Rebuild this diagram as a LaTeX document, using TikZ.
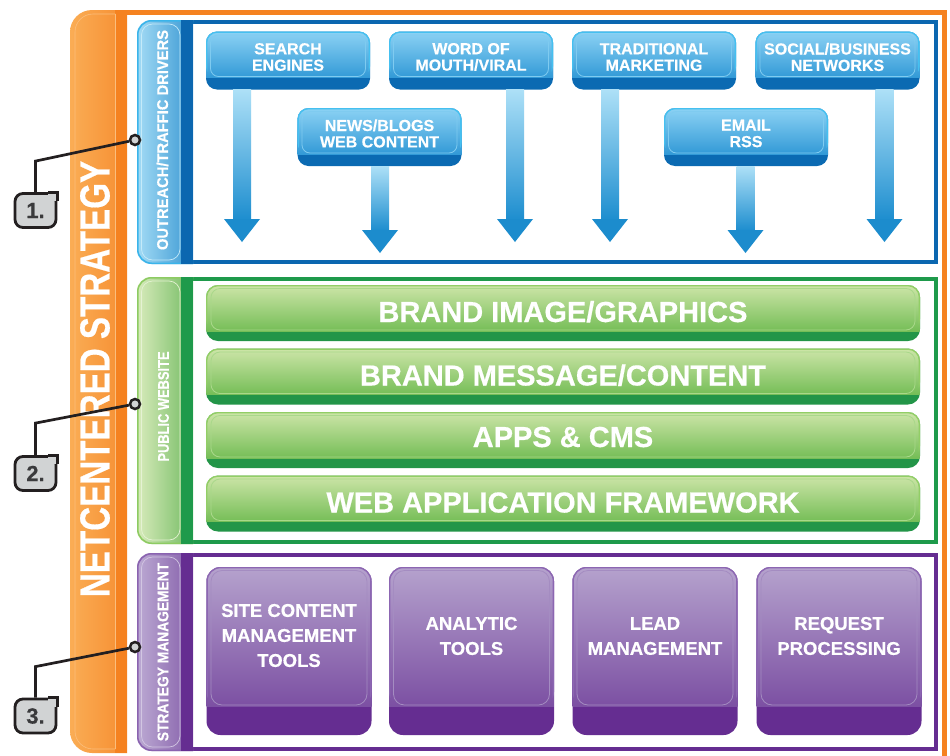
\documentclass[tikz,border=0pt]{standalone}
\usepackage{fontspec}
\setmainfont{Liberation Sans}[BoldFeatures={FakeBold=0.5}]
\usepackage{graphicx}
\usetikzlibrary{calc}
\definecolor{orL}{HTML}{FAAD55}
\definecolor{orR}{HTML}{F47B1B}
\definecolor{orStripe}{HTML}{F58220}
\definecolor{orHi}{HTML}{FBBE7C}
\definecolor{orLine}{HTML}{F58220}
\definecolor{bFrame}{HTML}{0B67B0}
\definecolor{bTabL}{HTML}{A3DBF5}
\definecolor{bTabR}{HTML}{0E7CC4}
\definecolor{bRim}{HTML}{3AB4EA}
\definecolor{bHi}{HTML}{C5EAF9}
\definecolor{bTop}{HTML}{8CD2F4}
\definecolor{bBot}{HTML}{1B8BCF}
\definecolor{bBand}{HTML}{0B6AB2}
\definecolor{bBoxHi}{HTML}{7FCBF0}
\definecolor{bBoxRim}{HTML}{45C0F0}
\definecolor{aTop}{HTML}{ADE0F7}
\definecolor{aBot}{HTML}{1E8ECF}
\definecolor{aHead}{HTML}{1C8CCD}
\definecolor{gFrame}{HTML}{1E9A4B}
\definecolor{gTabL}{HTML}{D8EBBB}
\definecolor{gTabR}{HTML}{4AA83F}
\definecolor{gRim}{HTML}{8DCB62}
\definecolor{gHi}{HTML}{E5F2D3}
\definecolor{gbTop}{HTML}{CDE5A8}
\definecolor{gbBot}{HTML}{62B545}
\definecolor{gbBand}{HTML}{239548}
\definecolor{gbHi}{HTML}{A9D88A}
\definecolor{gbRim}{HTML}{92CE66}
\definecolor{pFrame}{HTML}{652D91}
\definecolor{pTabL}{HTML}{BCAAD3}
\definecolor{pTabR}{HTML}{6E3F99}
\definecolor{pRim}{HTML}{8A63B0}
\definecolor{pHi}{HTML}{D2C6E2}
\definecolor{pbTop}{HTML}{B5A2CD}
\definecolor{pbBot}{HTML}{703F9A}
\definecolor{pbBand}{HTML}{652D91}
\definecolor{pbHi}{HTML}{A48CC1}
\definecolor{pbRim}{HTML}{8C66B2}
\definecolor{cFill}{HTML}{D1D3D4}
\definecolor{cBorder}{HTML}{231F20}
\definecolor{cText}{HTML}{3A3A3C}

\newcommand\mysection[8]{%
  \draw[#3, line width=4pt] (191,#1+2) rectangle (935.5,#2-2);
  \begin{scope}
    \clip (137,#1) rectangle (193,#2);
    \shade[left color=#4, right color=#5, rounded corners=14pt] (137,#1) rectangle (215,#2);
    \draw[#7, line width=1.5pt, rounded corners=14pt] (137.75,#1+0.75) rectangle (230,#2-0.75);
    \draw[#8, line width=0.7pt, rounded corners=11pt] (141.5,#1+4) rectangle (180,#2-4);
    \fill[#6] (181,#1) rectangle (193,#2);
  \end{scope}
}
\newcommand\myarrow[2]{%
  \shade[top color=aTop, bottom color=aBot] ($(#1.south -| #2)+(-9,0)$) rectangle ($(#2)+(9,-23)$);
  \fill[aHead] ($(#2)+(-18,-23)$) -- ($(#2)+(18,-23)$) -- (#2) -- cycle;
}
\newcommand\sharpcorner[1]{%
  \fill[cFill] ($(#1.north east)+(-9,1.4)$) rectangle ($(#1.north east)+(-1.4,9)$);
  \draw[cBorder, line width=2.8pt] ($(#1.north east)+(-9,0)$) -- (#1.north east) -- ($(#1.north east)+(0,9)$);
}
% #1 top colour, #2 bottom colour, #3 band height, #4 highlight colour, #5 corner radius, #6 rim colour, #7 inset
\newcommand\glosspic[7]{%
  \shade[sharp corners, top color=#1, bottom color=#2] (path picture bounding box.north west) rectangle ([yshift=#3]path picture bounding box.south east);
  \begin{scope}
    \clip (path picture bounding box.north west) rectangle ([yshift=#3]path picture bounding box.south east);
    \draw[#6, line width=2.6pt, rounded corners=#5] (path picture bounding box.north west) rectangle (path picture bounding box.south east);
  \end{scope}
  \draw[#4, line width=0.8pt, rounded corners=#5-3pt] ([shift={(#7,-3.5pt)}]path picture bounding box.north west) rectangle ([shift={(-#7,#3+1pt)}]path picture bounding box.south east);
}

\begin{document}
\begin{tikzpicture}[x=1pt,y=-1pt,
  wtxt/.style={text=white, inner sep=0pt},
  btxt/.style={wtxt, align=center, font=\fontsize{16}{16.4}\selectfont\bfseries},
  gtxt/.style={wtxt, font=\fontsize{29}{29}\selectfont\bfseries},
  ptxt/.style={wtxt, align=center, font=\fontsize{18.5}{25}\selectfont\bfseries},
  tabtxt/.style={wtxt, rotate=90, font=\fontsize{15.5}{15.5}\selectfont\bfseries},
  bbox/.style={rounded corners=11pt, minimum width=164pt, minimum height=58pt, inner sep=0pt, fill=bBand,
    path picture={\glosspic{bTop}{bBot}{12pt}{bBoxHi}{11pt}{bBoxRim}{4.5pt}}},
  gbar/.style={rounded corners=12pt, minimum width=714pt, minimum height=56pt, inner sep=0pt, fill=gbBand,
    path picture={\glosspic{gbTop}{gbBot}{10pt}{gbHi}{12pt}{gbRim}{5pt}}},
  pbox/.style={rounded corners=14pt, minimum width=165pt, minimum height=168pt, inner sep=0pt, fill=pbBand,
    path picture={\glosspic{pbTop}{pbBot}{29pt}{pbHi}{14pt}{pbRim}{4.5pt}}},
  numtag/.style={draw=cBorder, line width=2.8pt, fill=cFill, rounded corners=8pt, minimum width=41pt, minimum height=34pt, inner sep=0pt, text=cText, font=\fontsize{22}{22}\selectfont\bfseries},
  dotpin/.style={circle, draw=cBorder, line width=2.5pt, fill=cFill, minimum size=10pt, inner sep=0pt},
  leadline/.style={draw=cBorder, line width=2.7pt},
]
\useasboundingbox (0,0) rectangle (950,755);
\fill[white] (0,0) rectangle (950,755);

% orange frame
\begin{scope}
  \clip (70,10) rectangle (127,760);
  \shade[left color=orL, right color=orR, rounded corners=22pt] (70,10) rectangle (160,753);
\end{scope}
\fill[orStripe] (115,10) rectangle (127,753);
\begin{scope}
  \clip (70,10) rectangle (115.3,760);
  \draw[orHi, line width=0.6pt, rounded corners=18pt] (75,14) rectangle (140,749);
\end{scope}
\draw[orHi, line width=0.6pt] (115,14) -- (115,749);
\draw[orLine, line width=4.5pt] (120,12.25) -- (944.25,12.25) -- (944.25,760);
\node[wtxt, rotate=90, font=\fontsize{42}{42}\selectfont\bfseries] (title) at (95,379) {\scalebox{0.79}[1]{NETCENTERED STRATEGY}};

% sections
\mysection{20}{264}{bFrame}{bTabL}{bTabR}{bFrame}{bRim}{bHi}
\mysection{277}{544}{gFrame}{gTabL}{gTabR}{gFrame}{gRim}{gHi}
\mysection{553}{751}{pFrame}{pTabL}{pTabR}{pFrame}{pRim}{pHi}

\node[tabtxt] (tab1) at (162.5,140) {\scalebox{0.95}[1]{OUTREACH/TRAFFIC DRIVERS}};
\node[tabtxt] (tab2) at (163.5,406.5) {\scalebox{0.83}[1]{PUBLIC WEBSITE}};
\node[tabtxt] (tab3) at (163,652) {\scalebox{0.89}[1]{STRATEGY MANAGEMENT}};

% blue boxes
\node[bbox] (s1) at (288,60.5) {};
\node[bbox] (s2) at (471,60.5) {};
\node[bbox] (s3) at (654,60.5) {};
\node[bbox] (s4) at (837.5,60.5) {};
\node[bbox] (s5) at (379.5,137) {};
\node[bbox] (s6) at (746,137) {};
\node[btxt] (s1t) at ([yshift=3.5pt]s1.center) {SEARCH\\ENGINES};
\node[btxt] (s2t) at ([yshift=3.5pt]s2.center) {WORD OF\\MOUTH/VIRAL};
\node[btxt] (s3t) at ([yshift=3.5pt]s3.center) {TRADITIONAL\\MARKETING};
\node[btxt] (s4t) at ([yshift=3.5pt]s4.center) {SOCIAL/BUSINESS\\NETWORKS};
\node[btxt] (s5t) at ([yshift=3.5pt]s5.center) {NEWS/BLOGS\\WEB CONTENT};
\node[btxt] (s6t) at ([yshift=3.5pt]s6.center) {EMAIL\\RSS};

% arrows
\coordinate (t1) at (242,242);
\coordinate (t2) at (515,242);
\coordinate (t3) at (610,242);
\coordinate (t4) at (884.5,242);
\coordinate (t5) at (380,253);
\coordinate (t6) at (745.5,253);
\myarrow{s1}{t1}
\myarrow{s2}{t2}
\myarrow{s3}{t3}
\myarrow{s4}{t4}
\myarrow{s5}{t5}
\myarrow{s6}{t6}

% green bars
\node[gbar] (g1) at (563,313) {};
\node[gbar] (g2) at (563,376.5) {};
\node[gbar] (g3) at (563,440) {};
\node[gbar] (g4) at (563,503.5) {};
\node[gtxt, anchor=base] (g1t) at (563,322) {BRAND IMAGE/GRAPHICS};
\node[gtxt, anchor=base] (g2t) at (563,385.5) {BRAND MESSAGE/CONTENT};
\node[gtxt, anchor=base] (g3t) at (563,447) {APPS \& CMS};
\node[gtxt, anchor=base] (g4t) at (563,512.5) {WEB APPLICATION FRAMEWORK};

% purple boxes
\node[pbox] (m1) at (289,651) {};
\node[pbox] (m2) at (471.5,651) {};
\node[pbox] (m3) at (655,651) {};
\node[pbox] (m4) at (839,651) {};
\node[ptxt] (m1t) at ([yshift=15.5pt]m1.center) {SITE CONTENT\\MANAGEMENT\\TOOLS};
\node[ptxt] (m2t) at ([yshift=15pt]m2.center) {ANALYTIC\\TOOLS};
\node[ptxt] (m3t) at ([yshift=15pt]m3.center) {LEAD\\MANAGEMENT};
\node[ptxt] (m4t) at ([yshift=15pt]m4.center) {REQUEST\\PROCESSING};

% callouts
\node[numtag] (c1) at (35.5,210.5) {1.};
\node[numtag] (c2) at (35.5,473.5) {2.};
\node[numtag] (c3) at (35.5,716) {3.};
\sharpcorner{c1}
\sharpcorner{c2}
\sharpcorner{c3}
\node[dotpin] (p1) at (135,140) {};
\node[dotpin] (p2) at (135,404) {};
\node[dotpin] (p3) at (135,647) {};
\draw[leadline] (c1.north) -- ++(0,-31) -- (p1);
\draw[leadline] (c2.north) -- ++(0,-32) -- (p2);
\draw[leadline] (c3.north) -- ++(0,-31) -- (p3);
\end{tikzpicture}
\end{document}
